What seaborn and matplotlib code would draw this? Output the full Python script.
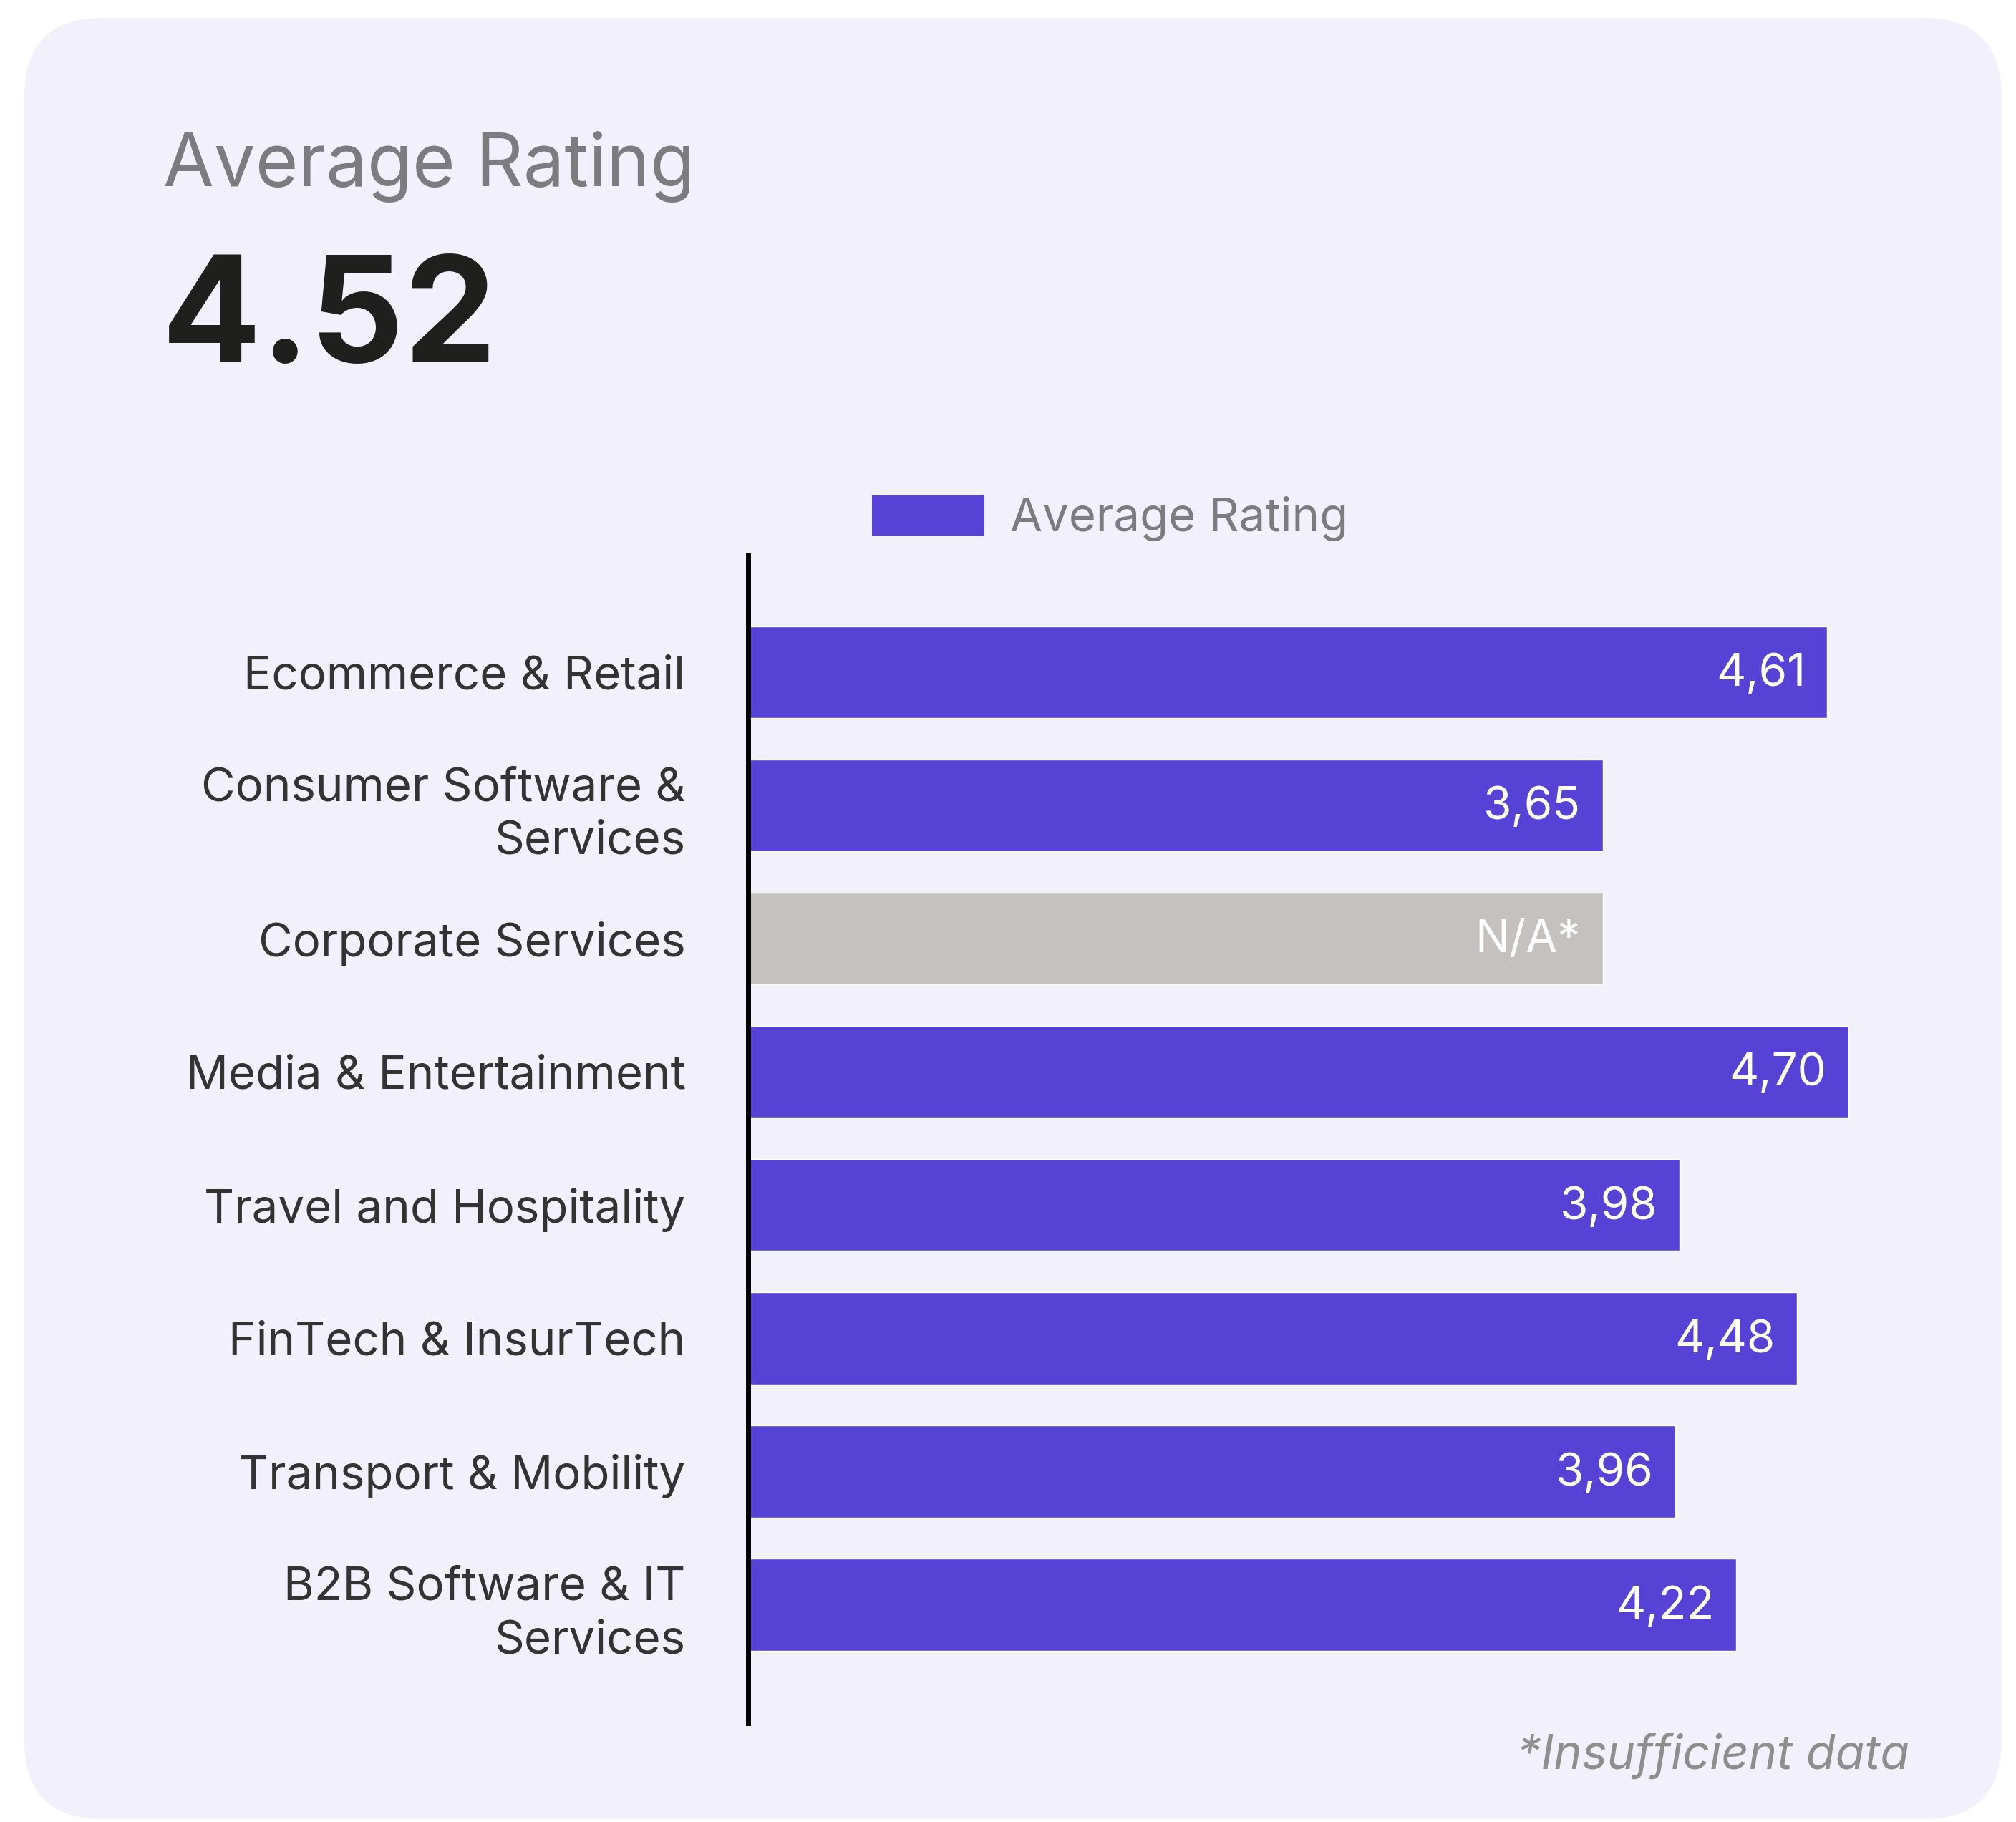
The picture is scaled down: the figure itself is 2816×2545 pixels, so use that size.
import pandas as pd
import seaborn as sns
import matplotlib.pyplot as plt
from matplotlib.patches import FancyBboxPatch, Patch

# data
categories = [
    "Ecommerce & Retail",
    "Consumer Software &\nServices",
    "Corporate Services",
    "Media & Entertainment",
    "Travel and Hospitality",
    "FinTech & InsurTech",
    "Transport & Mobility",
    "B2B Software & IT\nServices",
]
ratings = [4.61, 3.65, None, 4.70, 3.98, 4.48, 3.96, 4.22]
na_bar_length = 3.65  # grey placeholder bar for missing data
overall_rating = "4.52"
title_text = "Average Rating"
legend_label = "Average Rating"
footnote = "*Insufficient data"

purple = "#5643D6"
grey = "#C4C1BE"
card_bg = "#F2F0FB"

lengths = [r if r is not None else na_bar_length for r in ratings]
labels = [f"{r:.2f}".replace(".", ",") if r is not None else "N/A*" for r in ratings]
df = pd.DataFrame({"category": categories, "length": lengths, "label": labels})
palette = {c: (purple if r is not None else grey) for c, r in zip(categories, ratings)}

sns.set_style("white")
plt.rcParams["font.family"] = ["Inter", "DejaVu Sans"]

W, H = 2816, 2545
fig = plt.figure(figsize=(W / 100, H / 100), dpi=100, facecolor="white")

# rounded card behind everything
bg = fig.add_axes([0, 0, 1, 1], zorder=0)
bg.set_xlim(0, W)
bg.set_ylim(0, H)
bg.axis("off")
bg.add_patch(FancyBboxPatch((34, 4), 2762, 2516,
                            boxstyle="round,pad=0,rounding_size=110",
                            facecolor=card_bg, edgecolor="none"))

ax = fig.add_axes([1045 / W, 0.0542, (2680 - 1045) / W, 0.6951 - 0.0542], zorder=1)
ax.patch.set_alpha(0)
sns.barplot(data=df, y="category", x="length", hue="category", palette=palette,
            orient="h", width=0.69, legend=False, saturation=1, ax=ax)

for i, row in df.iterrows():
    ax.annotate(row["label"], xy=(row["length"], i), xytext=(-22, -2),
                textcoords="offset points", ha="right", va="center",
                color="white", fontsize=46, fontweight="normal")

ax.set_xlim(0, 5.0)
ax.set_ylim(7.89, -0.876)
ax.set_xlabel("")
ax.set_ylabel("")
ax.set_xticks([])
ax.tick_params(axis="y", length=0, pad=63, labelsize=47, labelcolor="#333333")
for lbl in ax.get_yticklabels():
    lbl.set_linespacing(1.3)
for side in ["top", "right", "bottom"]:
    ax.spines[side].set_visible(False)
ax.spines["left"].set_color("black")
ax.spines["left"].set_linewidth(5)

fig.legend(handles=[Patch(facecolor=purple, edgecolor="none", label=legend_label)],
           loc="center left", bbox_to_anchor=(1218 / W, 1 - 724 / H),
           frameon=False, fontsize=47, labelcolor="#7C7C80",
           handlelength=2.4, handleheight=0.95, handletextpad=0.55,
           borderpad=0, borderaxespad=0)

fig.text(228 / W, 1 - 260 / H, title_text, fontsize=74, color="#7C7C80",
         fontweight="normal", ha="left", va="baseline")
fig.text(226 / W, 1 - 506 / H, overall_rating, fontsize=148, color="#1F1F1D",
         fontweight="bold", ha="left", va="baseline")
fig.text(2667 / W, 1 - 2452 / H, footnote, fontsize=48, color="#8E8E8E",
         style="italic", ha="right", va="center")

fig.savefig("out.png", dpi=100, facecolor="white")
